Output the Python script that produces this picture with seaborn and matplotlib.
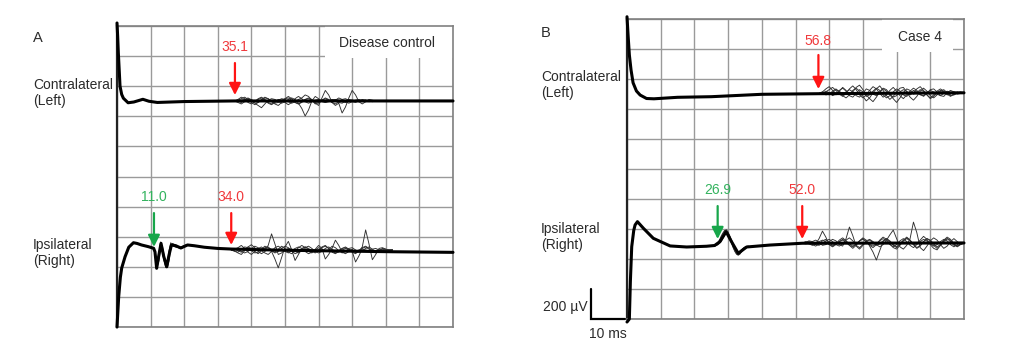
import numpy as np
import pandas as pd
import seaborn as sns
import matplotlib.pyplot as plt
from matplotlib.patches import Rectangle

# time in ms, amplitude in uV (one grid square = 10 ms x 200 uV)

# ---- panel A: disease control ----
# contralateral (left): averaged bundle
a_left_t = [0, 0.2, 0.4, 0.9, 1.4, 1.9, 3.3, 5, 7.7, 9.5, 12, 20, 35, 60, 100]
a_left_v = [2020, 1930, 1820, 1600, 1545, 1520, 1490, 1495, 1513, 1500, 1492, 1498, 1502, 1502, 1502]
# single sweeps after the onset, deviation from level, 1 ms steps from 35 ms
a_left_level = 1502
a_left_start = 35
a_left_sweeps = [
    [0, 10, 25, 15, -10, -20, -5, 15, 25, 10, -10, -20, -5, 10, 5, -10, -25, -10, 15, 30, 15, -5,
     -15, -5, 5, 10, 0, -10, -5, 5, 10, 5, -5, -10, 0, 5, 0, -5, 0, 5, 0, -5, 0, 0],
    [0, -5, 5, 10, 20, 5, -15, -30, -45, -20, 5, 15, 10, -5, -15, -5, 10, 20, 10, -15, -50, -100,
     -60, 0, 30, 15, -5, -10, 0, 10, 5, -10, -15, 0, 10, 5, 0, -5, 0, 5, 0, 0, 0, 0],
    [0, 0, -10, 5, 15, 10, -5, -10, 5, 20, 15, 0, -15, -10, 5, 15, 20, 5, -10, -20, -10, 10, 20,
     10, -15, -30, 20, 70, 40, -10, -30, -15, -80, -40, 20, 70, 40, -5, -20, -5, 10, 5, 0, 0],
    [0, 5, 15, 25, 10, -10, -25, -10, 10, 25, 15, -5, -20, -30, -10, 15, 30, 15, -10, -20, -5, 10,
     15, 5, -10, -15, 5, 20, 10, -10, -20, -5, 10, 15, 5, -5, -10, 0, 10, 5, -5, 0, 0, 0],
    [0, -10, -20, -5, 10, 5, -5, 10, 20, 5, -15, -25, -10, 5, 15, 10, -5, -15, -5, 10, 20, 40, 30,
     5, -20, -10, 5, 15, 5, -10, 5, 20, 10, -5, -15, -5, 5, 10, 0, -5, 0, 0, 0, 0],
]

# ipsilateral (right)
a_right_t = [0, 0.5, 1.0, 1.4, 2.4, 3.5, 4.9, 6, 7.3, 9.3, 10.9, 11.3, 11.8, 12.4, 13.1, 13.9, 14.8,
             15.5, 16.2, 17.5, 19, 21, 23, 26, 30, 34, 50, 82, 100]
a_right_v = [0, 200, 330, 392, 467, 530, 560, 555, 545, 534, 523, 500, 390, 470, 556, 470, 400,
             480, 545, 540, 525, 545, 540, 530, 522, 518, 510, 500, 496]
# early sweeps, absolute values, 0.5 ms steps from 11 ms
a_right_early_start = 11
a_right_early = [
    [520, 480, 410, 440, 530, 540, 480, 420, 395, 440, 520, 555, 550, 540, 530, 525, 522, 528, 536, 545, 548, 546, 543],
    [520, 450, 395, 500, 560, 500, 445, 400, 420, 500, 550, 545, 540, 535, 530, 525, 528, 535, 540, 545, 545, 544, 542],
    [522, 470, 420, 460, 545, 525, 470, 425, 400, 460, 530, 550, 548, 545, 535, 528, 524, 527, 534, 540, 546, 547, 544],
    [518, 455, 390, 490, 565, 495, 440, 395, 430, 510, 560, 540, 535, 530, 528, 530, 532, 536, 540, 542, 544, 543, 541],
]
a_right_level = 512
a_right_start = 34
a_right_sweeps = [
    [0, 5, 15, 30, 10, -15, -30, -10, 10, 20, 0, 30, 107, 40, -30, -20, 0, 10, 5, -10, -20, -5, 15,
     25, 10, -10, -20, -10, 10, 20, 5, -10, -15, 0, 10, 5, -5, -10, 0, 5, 0, -5, 5, 10, 0, -5, 0, 0, 0],
    [0, -5, -20, -30, -5, 20, 35, 15, -10, -25, -10, 5, -10, -60, -119, -50, 20, 57, 0, -70, -30, 10,
     20, 5, -10, -20, -5, 15, 25, 10, -10, -20, -5, 10, 15, 5, -10, -80, -40, 10, 20, 5, -10, -5, 5, 0, 0, 0, 0],
    [0, 10, 5, -10, -20, -10, 10, 25, 15, -5, -20, -30, -10, 15, 25, 10, -10, -20, -5, 10, 20, 10, -10,
     -25, -15, 5, 30, 10, -60, -30, 10, 65, 30, -15, -25, -10, 5, -20, -10, 20, 133, 40, -65, -30, 10, 15, 5, -5, 0],
    [0, -10, -15, 5, 20, 15, -5, -20, -15, 5, 25, 15, -5, -20, -10, 10, 25, 15, -5, -25, -15, 5, 20, 10,
     -5, -15, 0, 20, 30, 10, -15, -25, -10, 10, 20, 5, -15, -25, -5, 15, 25, 10, -10, -20, -5, 10, 5, 0, 0],
    [0, 5, -5, -15, 0, 20, 10, -10, -25, -5, 15, 20, 0, -15, 5, 25, 10, -15, -25, -5, 15, 30, 15, -10,
     -20, 0, 15, 5, -10, 0, 25, 15, -5, -20, -10, 10, 15, 0, -15, -5, 10, 20, 5, -10, -5, 5, 0, 0, 0],
]

# ---- panel B: case 4 ----
b_left_t = [0, 0.3, 0.7, 1.2, 1.8, 2.8, 3.9, 5.8, 8, 15, 25, 40, 57, 100]
b_left_v = [2015, 1900, 1760, 1660, 1575, 1520, 1493, 1470, 1468, 1478, 1482, 1498, 1502, 1508]
b_left_level = 1504
b_left_start = 57
b_left_sweeps = [
    [0, 10, 30, 45, 20, -10, 15, 40, 20, -15, -25, 0, 25, 10, -20, -10, 15, 35, 20, -10, -30, -15,
     10, 30, 15, -10, -20, 0, 20, 10, -10, -15, 5, 20, 10, -5, -15, 0, 15, 5, -10, 0, 5, 0],
    [0, -5, 10, 25, 40, 20, -5, -20, 0, 30, 50, 25, -10, -30, -10, 20, 45, 30, 0, -25, -10, 20, 40,
     15, -15, -35, -10, 15, 35, 20, -5, -20, 0, 25, 30, 10, -15, -20, 5, 20, 10, -5, 0, 0],
    [0, 5, -10, -5, 15, 30, 10, -15, -30, -10, 20, 35, 15, -20, -50, -30, 5, 30, 50, 20, -15, -40,
     -20, 10, 35, 40, 10, -25, -45, -20, 15, 35, 15, -15, -30, -10, 15, 25, 5, -15, -10, 5, 10, 0],
    [0, 0, 15, 5, -15, -5, 20, 35, 15, -5, 10, 40, 55, 25, -10, -35, -55, -25, 10, 30, 15, -10, -35,
     -60, -30, 5, 30, 20, -5, 5, 25, 15, -10, -30, -10, 15, 30, 15, -5, -20, -5, 10, 0, 0],
    [0, 10, 5, -10, 5, 25, 15, -5, 10, 25, 10, -15, -25, 0, 30, 20, -5, -15, 10, 35, 25, -5, -25,
     -15, 10, 25, 15, -10, 5, 30, 45, 20, -10, -35, -20, 5, 20, 10, -10, -5, 10, 5, 0, 0],
]

b_right_t = [0, 0.7, 1.0, 1.4, 2.0, 2.4, 3.1, 4.9, 7.8, 12.8, 17.7, 23.6, 26, 27.6, 29.4, 31,
             33, 35.5, 42.4, 50.4, 52, 100]
b_right_v = [-20, 0, 250, 482, 590, 627, 649, 604, 538, 487, 480, 485, 490, 516, 582, 516,
             438, 480, 493, 503, 505, 507]
b_right_early_start = 26
b_right_early = [
    [488, 492, 498, 510, 525, 545, 565, 578, 575, 555, 528, 500, 475, 455, 445, 448, 460, 472, 480, 484, 486],
    [492, 498, 505, 525, 548, 570, 590, 595, 580, 550, 515, 480, 455, 435, 428, 438, 452, 466, 476, 482, 485],
    [486, 490, 495, 505, 520, 540, 560, 568, 560, 540, 515, 492, 470, 452, 445, 450, 462, 472, 478, 482, 484],
    [494, 500, 510, 530, 555, 575, 590, 588, 570, 540, 505, 475, 450, 432, 425, 432, 448, 462, 474, 480, 483],
]
b_right_level = 506
b_right_start = 52
b_right_sweeps = [
    [0, 5, 15, 10, -5, 30, 80, 40, -10, -20, -5, 10, 20, 5, -15, -25, -5, 15, 25, 10, -10, -20, -5,
     15, 30, 15, -10, -25, -10, 15, 30, 10, -15, -30, -10, 10, 25, 15, -5, -20, -10, 10, 25, 15, -10, -25, -10, 5, 0],
    [0, -5, 0, 10, 20, 5, -15, -10, 10, 25, 15, -10, -20, 30, 107, 50, -20, -40, -15, 10, 20, 5, -15,
     -5, 15, 30, 10, -15, -30, -10, 15, 35, 20, -10, -35, -20, 10, 30, 15, -15, -35, -15, 10, 30, 20, -5, -20, -5, 0],
    [0, 5, -5, -15, -5, 10, 20, 10, -10, -25, -10, 10, 25, 15, -5, -20, -10, 15, 35, 20, -20, -60, -113,
     -50, 10, 30, 15, -10, -25, -5, 20, 40, 20, -10, -30, -15, 10, 30, 20, -5, -25, -10, 15, 30, 10, -15, -20, -5, 0],
    [0, 0, 10, 5, -10, -15, 0, 15, 25, 10, -10, -20, -5, 20, 35, 15, -15, -30, -10, 15, 25, 10, -10,
     -25, -10, 20, 55, 87, 30, -25, -40, -15, 30, 140, 70, -30, -50, -20, 15, 35, 20, -10, -35, -20, 10, 30, 10, -10, 0],
    [0, 10, 5, -10, -20, -5, 15, 25, 5, -15, -5, 20, 35, 15, -15, -35, -15, 15, 30, 10, -15, -30, -10,
     20, 40, 25, -5, -30, -40, -15, 15, 30, 15, -10, -5, 20, 45, 25, -10, -35, -45, -15, 20, 40, 25, -5, -25, -10, 0],
]

# latency markers: (ms, label, colour, arrow tip, arrow tail, label height) in uV
a_markers = [(35.1, "35.1", "red", 1541, 1754, 1860),
             (11.0, "11.0", "green", 532, 757, 864),
             (34.0, "34.0", "red", 545, 757, 864)]
b_markers = [(56.8, "56.8", "red", 1533, 1760, 1853),
             (26.9, "26.9", "green", 533, 753, 860),
             (52.0, "52.0", "red", 533, 753, 860)]

RED_TXT, RED_ARR = "#f0393c", "#ff1414"
GREEN_TXT, GREEN_ARR = "#33b35e", "#17a64a"
TXT = "#2b2b2b"

sns.set_style("white")
plt.rcParams["font.family"] = ["Liberation Sans", "DejaVu Sans"]
plt.rcParams["font.size"] = 10

fig = plt.figure(figsize=(10.24, 3.6), dpi=100)
W, H = 1024, 360
ax_a = fig.add_axes([117 / W, 1 - 327 / H, 336 / W, 301 / H])
ax_b = fig.add_axes([627 / W, 1 - 319 / H, 337 / W, 300 / H])


def sweeps_frame(start, step, values, level=0):
    rows = []
    for i, tr in enumerate(values):
        t = start + step * np.arange(len(tr))
        rows.append(pd.DataFrame({"t": t, "v": level + np.asarray(tr), "sweep": i}))
    return pd.concat(rows, ignore_index=True)


def draw_channel(ax, base_t, base_v, level, start, sweeps, early_start=None, early=None):
    df = sweeps_frame(start, 1.0, sweeps, level)
    sns.lineplot(data=df, x="t", y="v", units="sweep", estimator=None, sort=False,
                 color="#303030", lw=0.65, ax=ax, legend=False, zorder=3)
    if early is not None:
        de = sweeps_frame(early_start, 0.5, early)
        sns.lineplot(data=de, x="t", y="v", units="sweep", estimator=None, sort=False,
                     color="#303030", lw=0.65, ax=ax, legend=False, zorder=3)
    sns.lineplot(x=base_t, y=base_v, sort=False, estimator=None, color="black",
                 lw=2.2, ax=ax, zorder=4, clip_on=False)


def style_axes(ax):
    ax.set_xlim(0, 100)
    ax.set_ylim(0, 2000)
    ax.set_xticks(np.arange(0, 101, 10))
    ax.set_yticks(np.arange(0, 2001, 200))
    ax.set_xticklabels([])
    ax.set_yticklabels([])
    ax.tick_params(length=0)
    ax.set_xlabel("")
    ax.set_ylabel("")
    ax.grid(True, color="#9a9a9a", lw=1.0)
    ax.set_axisbelow(True)
    for side in ["top", "right", "bottom"]:
        ax.spines[side].set_color("#808080")
        ax.spines[side].set_linewidth(1.2)
    ax.spines["left"].set_color("#222222")
    ax.spines["left"].set_linewidth(1.6)


def draw_markers(ax, markers):
    for x, label, kind, tip, tail, ty in markers:
        tc, ac = (RED_TXT, RED_ARR) if kind == "red" else (GREEN_TXT, GREEN_ARR)
        ax.annotate("", xy=(x, tip), xytext=(x, tail),
                    arrowprops=dict(arrowstyle="-|>,head_length=0.5,head_width=0.25",
                                    color=ac, lw=1.6, shrinkA=0, shrinkB=0,
                                    mutation_scale=14), zorder=6)
        ax.text(x, ty, label, color=tc, ha="center", va="center", fontsize=10, zorder=6)


draw_channel(ax_a, a_left_t, a_left_v, a_left_level, a_left_start, a_left_sweeps)
draw_channel(ax_a, a_right_t, a_right_v, a_right_level, a_right_start, a_right_sweeps,
             a_right_early_start, a_right_early)
draw_channel(ax_b, b_left_t, b_left_v, b_left_level, b_left_start, b_left_sweeps)
draw_channel(ax_b, b_right_t, b_right_v, b_right_level, b_right_start, b_right_sweeps,
             b_right_early_start, b_right_early)

for ax in (ax_a, ax_b):
    style_axes(ax)

draw_markers(ax_a, a_markers)
draw_markers(ax_b, b_markers)

# label boxes covering the grid
ax_a.add_patch(Rectangle((62.0, 1785), 38, 215, facecolor="white", edgecolor="none", zorder=2))
ax_a.text(80.5, 1885, "Disease control", ha="center", va="center", fontsize=10, color=TXT, zorder=5)
ax_b.add_patch(Rectangle((75.7, 1780), 21.0, 220, facecolor="white", edgecolor="none", zorder=2))
ax_b.text(86.8, 1880, "Case 4", ha="center", va="center", fontsize=10, color=TXT, zorder=5)

# scale bar: 10 ms x 200 uV
sb_x0 = -10.7
ax_b.plot([sb_x0, sb_x0, sb_x0 + 10], [200, 0, 0], color="black", lw=1.6,
          clip_on=False, solid_joinstyle="miter")
fig.text(588 / W, 1 - 307 / H, "200 µV", ha="right", va="center", fontsize=10, color=TXT)
fig.text(608 / W, 1 - 334 / H, "10 ms", ha="center", va="center", fontsize=10, color=TXT)

# panel and channel labels
fig.text(33 / W, 1 - 38 / H, "A", ha="left", va="center", fontsize=10.5, color=TXT)
fig.text(33 / W, 1 - 93 / H, "Contralateral\n(Left)", ha="left", va="center", fontsize=10,
         linespacing=1.2, color=TXT)
fig.text(33 / W, 1 - 253 / H, "Ipsilateral\n(Right)", ha="left", va="center", fontsize=10,
         linespacing=1.2, color=TXT)
fig.text(541 / W, 1 - 33 / H, "B", ha="left", va="center", fontsize=10.5, color=TXT)
fig.text(541 / W, 1 - 85 / H, "Contralateral\n(Left)", ha="left", va="center", fontsize=10,
         linespacing=1.2, color=TXT)
fig.text(541 / W, 1 - 237 / H, "Ipsilateral\n(Right)", ha="left", va="center", fontsize=10,
         linespacing=1.2, color=TXT)

fig.savefig("out.png", dpi=100)
